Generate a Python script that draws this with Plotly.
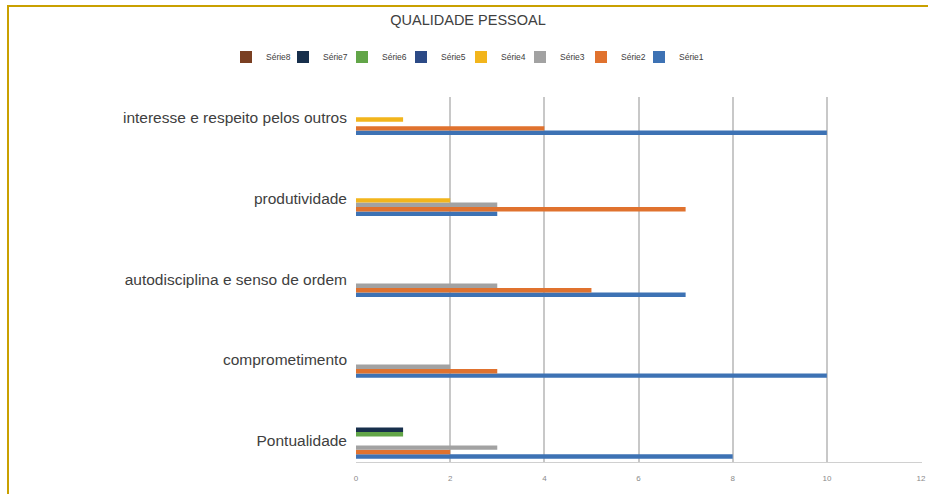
import plotly.graph_objects as go

categories = ["Pontualidade", "comprometimento", "autodisciplina e senso de ordem",
              "produtividade", "interesse e respeito pelos outros"]
series_names = ["Série1", "Série2", "Série3", "Série4", "Série5", "Série6", "Série7", "Série8"]
serie1 = [8, 10, 7, 3, 10]
serie2 = [2, 3, 5, 7, 4]
serie3 = [3, 2, 3, 3, 0]
serie4 = [0, 0, 0, 2, 1]
serie5 = [0, 0, 0, 0, 0]
serie6 = [1, 0, 0, 0, 0]
serie7 = [1, 0, 0, 0, 0]
serie8 = [0, 0, 0, 0, 0]
x_ticks = [0, 2, 4, 6, 8, 10, 12]

all_series = [serie1, serie2, serie3, serie4, serie5, serie6, serie7, serie8]
colors = ["#3d72b4", "#e0722e", "#a2a2a2", "#f2b51c", "#2c4a86", "#62a548", "#172f4c", "#7a3f22"]

W, H = 928, 494
L, R, T, B = 356, 6, 97, 32

# legend box centres (px) for Série1..Série8 (legend shown reversed, Série8 first)
legend_centres = [659, 601, 540, 481, 421, 362, 303, 246]

fig = go.Figure()
legend_layouts = {}
for i, (name, vals, col) in enumerate(zip(series_names, all_series, colors)):
    key = "legend" if i == 0 else f"legend{i + 1}"
    fig.add_trace(go.Bar(
        y=categories, x=vals, name=name, orientation="h",
        marker=dict(color=col, line=dict(width=0)),
        legend=key,
    ))
    legend_layouts[key] = dict(
        orientation="h", xref="container", yref="container",
        x=(legend_centres[i] - 20) / W, y=1 - 57 / H,
        xanchor="left", yanchor="middle",
        font=dict(family="Liberation Sans", size=8.5, color="#404040"),
        itemwidth=30, bgcolor="rgba(0,0,0,0)",
    )

fig.update_layout(
    width=W, height=H,
    margin=dict(l=L, r=R, t=T, b=B, autoexpand=False),
    paper_bgcolor="white", plot_bgcolor="white",
    barmode="group", bargap=0.56, bargroupgap=0,
    title=dict(text="QUALIDADE PESSOAL", x=468 / W, y=1 - 20 / H,
               xanchor="center", yanchor="middle", pad=dict(t=0, b=0, l=0, r=0),
               automargin=False,
               font=dict(family="Liberation Sans", size=14.5, color="#404040")),
    font=dict(family="Liberation Sans", color="#404040"),
    xaxis=dict(range=[0, 12.02], tickvals=x_ticks, showgrid=True, automargin=False,
               gridcolor="#c8c8c8", gridwidth=1.5, zeroline=False,
               showline=True, linecolor="#d0d0d0", linewidth=1,
               tickfont=dict(size=8, color="#8a8a8a"), ticks="",
               ticklabelstandoff=8),
    yaxis=dict(type="category", range=[-0.26, 4.25], showgrid=False, automargin=False,
               zeroline=False, showline=False, ticks="",
               tickfont=dict(size=15.5, color="#404040"), ticklabelstandoff=8),
    showlegend=True,
    **legend_layouts,
)

# golden frame (top and left edges visible in reference)
fig.add_shape(type="rect", xref="paper", yref="paper",
              x0=(8 - L) / (W - L - R), x1=(940 - L) / (W - L - R),
              y0=(H - B - 505) / (H - T - B), y1=(H - B - 6) / (H - T - B),
              line=dict(color="#c9a000", width=2), fillcolor="rgba(0,0,0,0)",
              layer="above")

fig.write_html("out.html", config={"displayModeBar": False},
               post_script="document.body.style.margin='0';document.body.style.overflow='hidden';")
